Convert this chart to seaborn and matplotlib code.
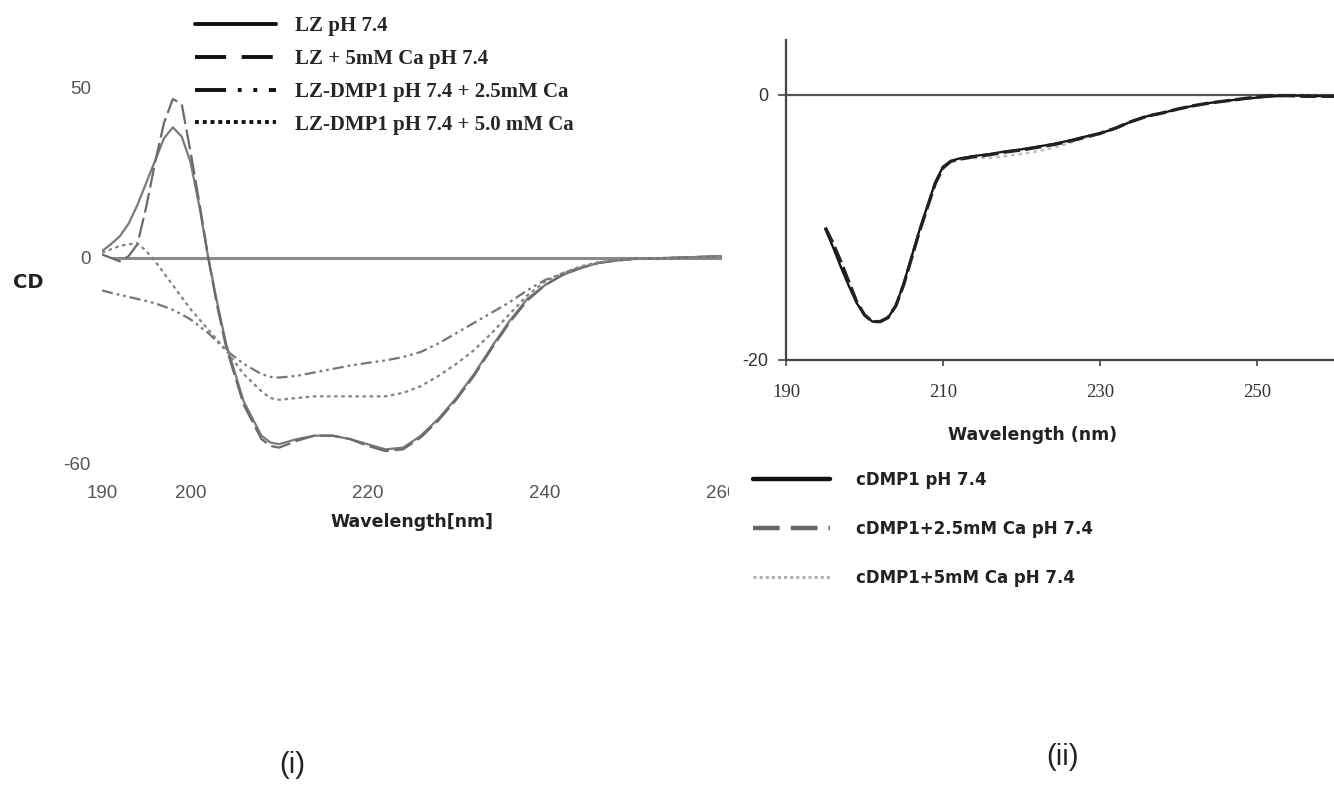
import matplotlib
matplotlib.use("Agg")
import matplotlib.pyplot as plt
import matplotlib.font_manager as fm
from matplotlib.font_manager import FontProperties
from matplotlib.transforms import Bbox
import seaborn as sns

# ---------------- Panel (i) data ----------------
wl_i = [190, 191, 192, 193, 194, 195, 196, 197, 198, 199, 200, 201, 202, 203, 204,
        206, 208, 209, 210, 212, 214, 216, 218, 220, 222, 224, 226, 228, 230, 232,
        234, 236, 238, 240, 242, 244, 246, 248, 250, 254, 260]
lz_ph74 = [2.0, 4.0, 6.3, 10.0, 15.5, 22.0, 28.5, 35.0, 38.2, 35.5, 28.0, 15.0, 0.0, -13.0, -25.0,
           -42.0, -52.0, -54.0, -54.5, -53.0, -52.0, -52.0, -53.0, -54.5, -56.0, -55.5, -52.0, -47.0, -41.0, -34.0,
           -26.0, -18.5, -12.0, -8.0, -5.0, -3.0, -1.5, -0.8, -0.3, 0.0, 0.5]
lz_ca5 = [1.0, 0.0, -1.0, 0.5, 4.0, 15.0, 28.0, 39.5, 46.5, 45.0, 31.0, 16.0, 0.0, -14.0, -26.0,
          -43.0, -53.0, -55.0, -55.5, -53.5, -52.0, -52.0, -53.0, -55.0, -56.5, -56.0, -52.5, -47.5, -41.5, -34.5,
          -26.5, -19.0, -12.5, -8.0, -5.0, -3.0, -1.5, -0.8, -0.3, 0.0, 0.5]
dmp1_ca25 = [-9.5, -10.2, -10.8, -11.4, -12.0, -12.6, -13.3, -14.2, -15.2, -16.5, -18.0, -20.0, -22.0, -24.5, -27.0,
             -31.0, -34.0, -34.8, -35.0, -34.5, -33.5, -32.5, -31.5, -30.7, -30.0, -29.0, -27.5, -25.0, -22.0, -19.0,
             -16.0, -13.0, -9.5, -6.5, -4.5, -2.8, -1.5, -0.7, -0.3, 0.0, 0.5]
dmp1_ca50 = [1.5, 2.5, 3.5, 4.0, 4.3, 2.0, -1.0, -4.5, -8.0, -11.5, -15.0, -18.0, -21.0, -24.0, -27.0,
             -34.0, -39.0, -41.0, -41.5, -41.0, -40.5, -40.5, -40.5, -40.5, -40.5, -39.5, -37.5, -34.5, -31.0, -27.0,
             -22.0, -16.5, -11.0, -7.0, -4.5, -2.5, -1.3, -0.6, -0.2, 0.0, 0.5]
labels_i = ["LZ pH 7.4", "LZ + 5mM Ca pH 7.4",
            "LZ-DMP1 pH 7.4 + 2.5mM Ca", "LZ-DMP1 pH 7.4 + 5.0 mM Ca"]
xticks_i = [190, 200, 220, 240, 260]
yticks_i = [-60, 0, 50]

# ---------------- Panel (ii) data ----------------
wl_ii = [195, 196, 197, 198, 199, 200, 201, 202, 203, 204, 205, 206, 207, 208, 209,
         210, 211, 212, 214, 216, 218, 220, 222, 224, 226, 228, 230, 232, 234, 236,
         238, 240, 242, 244, 246, 248, 250, 252, 254, 256, 258, 260]
cdmp1 = [-10.1, -11.5, -13.0, -14.4, -15.7, -16.6, -17.1, -17.1, -16.8, -15.9, -14.2, -12.2, -10.2, -8.4, -6.6,
         -5.4, -5.0, -4.8, -4.6, -4.45, -4.25, -4.1, -3.9, -3.7, -3.45, -3.15, -2.9, -2.5, -2.0, -1.6,
         -1.35, -1.05, -0.8, -0.6, -0.45, -0.3, -0.2, -0.1, -0.05, -0.05, -0.08, -0.1]
cdmp1_ca25 = [-10.0, -11.2, -12.6, -14.1, -15.6, -16.6, -17.1, -17.1, -16.8, -15.9, -14.3, -12.3, -10.3, -8.5, -6.7,
              -5.5, -5.0, -4.85, -4.65, -4.5, -4.3, -4.15, -3.95, -3.75, -3.5, -3.2, -2.9, -2.5, -2.0, -1.6,
              -1.35, -1.05, -0.8, -0.6, -0.45, -0.3, -0.15, -0.05, -0.05, -0.1, -0.1, -0.1]
cdmp1_ca5 = [-10.1, -11.5, -13.0, -14.4, -15.7, -16.6, -17.1, -17.1, -16.8, -15.9, -14.2, -12.2, -10.2, -8.4, -6.7,
             -5.5, -5.05, -4.85, -4.75, -4.75, -4.6, -4.45, -4.25, -4.0, -3.65, -3.25, -2.95, -2.5, -2.0, -1.6,
             -1.35, -1.05, -0.8, -0.6, -0.45, -0.3, -0.2, -0.1, -0.05, -0.05, -0.08, -0.1]
labels_ii = ["cDMP1 pH 7.4", "cDMP1+2.5mM Ca pH 7.4", "cDMP1+5mM Ca pH 7.4"]
xticks_ii = [190, 210, 230, 250]
yticks_ii = [-20, 0]

# ---------------- style / fonts ----------------
sns.set_style("white")
plt.rcParams["font.family"] = ["DejaVu Sans"]
avail = {f.name for f in fm.fontManager.ttflist}
NARROW = "Liberation Sans Narrow" if "Liberation Sans Narrow" in avail else "Liberation Sans"
SERIF = "Liberation Serif" if "Liberation Serif" in avail else "DejaVu Serif"
SANS = "Liberation Sans" if "Liberation Sans" in avail else "DejaVu Sans"

W, H = 1334, 787
fig = plt.figure(figsize=(W / 100, H / 100), dpi=100)
fig.patch.set_facecolor("white")

# ================= Panel (i) =================
ax1 = fig.add_axes([102 / W, 1 - 463 / H, 620 / W, 376 / H])
ax1.set_facecolor("none")
styles_i = [
    dict(color="#7a7a7a", linestyle="-", lw=1.6),
    dict(color="#6a6a6a", linestyle=(0, (9, 2.5)), lw=1.6),
    dict(color="#767676", linestyle=(0, (5, 1.8, 1.2, 1.8, 1.2, 1.8)), lw=1.6),
    dict(color="#858585", linestyle=(0, (1.6, 1.6)), lw=1.6),
]
lines_i = []
for yv, st in zip([lz_ph74, lz_ca5, dmp1_ca25, dmp1_ca50], styles_i):
    sns.lineplot(x=wl_i, y=yv, ax=ax1, **st)
    lines_i.append(ax1.lines[-1])
ax1.axhline(0, xmin=(191.2 - 190) / 70, xmax=1, color="#8a8a8a", lw=2.2, zorder=0)
ax1.set_xlim(190, 260)
ax1.set_ylim(-60, 50)
for s in ax1.spines.values():
    s.set_visible(False)
ax1.set_xticks(xticks_i, labels=[str(v) for v in xticks_i])
ax1.set_yticks(yticks_i, labels=[str(v) for v in yticks_i])
ax1.tick_params(axis="both", length=0, colors="#555555")
ax1.tick_params(axis="x", pad=16)
ax1.tick_params(axis="y", pad=8)
for t in ax1.get_xticklabels() + ax1.get_yticklabels():
    t.set_fontfamily(NARROW)
    t.set_fontsize(13.5)
ax1.set_xlabel("Wavelength[nm]", fontsize=12.5, fontweight="bold", color="#222222")
ax1.xaxis.label.set_va("center")
ax1.xaxis.set_label_coords(0.5, (463 - 522) / 376)
ax1.set_ylabel("CD", rotation=0, fontsize=14, fontweight="bold", color="#222222")
ax1.yaxis.label.set_va("center")
ax1.yaxis.label.set_ha("center")
ax1.yaxis.set_label_coords((28 - 102) / 620, (463 - 283) / 376)

leg1 = fig.legend(handles=lines_i, labels=labels_i, loc="upper left",
                  bbox_to_anchor=(195 / W, 1 - 16 / H), frameon=False,
                  prop=FontProperties(family=SERIF, weight="bold", size=15),
                  handlelength=3.9, handletextpad=0.9, labelspacing=0.62,
                  borderpad=0, borderaxespad=0)
leg_styles_i = ["-", (0, (8, 4, 8, 4, 2, 4)), (0, (8, 3, 1, 3, 1, 3)), (0, (1, 1))]
for h, ls in zip(leg1.legend_handles, leg_styles_i):
    h.set_color("#111111")
    h.set_linewidth(2.8)
    h.set_linestyle(ls)

# ================= Panel (ii) =================
x_right = 190 + (W - 786) / 7.85
ax2 = fig.add_axes([786 / W, 1 - 360 / H, (W - 786) / W, 320 / H])
ax2.set_facecolor("none")
styles_ii = [
    dict(color="#111111", linestyle="-", lw=1.6, zorder=3),
    dict(color="#222222", linestyle=(0, (5, 1.5)), lw=2.4, zorder=4),
    dict(color="#c0c0c0", linestyle=(0, (1.5, 1.5)), lw=1.8, zorder=2),
]
lines_ii = []
for yv, st in zip([cdmp1, cdmp1_ca25, cdmp1_ca5], styles_ii):
    sns.lineplot(x=wl_ii, y=yv, ax=ax2, **st)
    lines_ii.append(ax2.lines[-1])
ax2.axhline(0, color="#555555", lw=1.6, zorder=1)
ax2.set_xlim(190, x_right)
ax2.set_ylim(-20, 4.15)
for k in ["top", "right"]:
    ax2.spines[k].set_visible(False)
for k in ["left", "bottom"]:
    ax2.spines[k].set_color("#444444")
    ax2.spines[k].set_linewidth(1.6)
ax2.set_xticks(xticks_ii, labels=[str(v) for v in xticks_ii])
ax2.set_yticks(yticks_ii, labels=[str(v) for v in yticks_ii])
ax2.tick_params(axis="x", direction="out", length=4, width=1.2, colors="#444444",
                labelcolor="#333333", pad=13, bottom=True)
ax2.tick_params(axis="y", direction="out", length=6, width=1.2, colors="#444444",
                labelcolor="#333333", pad=7, left=True)
for t in ax2.get_xticklabels():
    t.set_fontfamily(SERIF)
    t.set_fontsize(13.5)
for t in ax2.get_yticklabels():
    t.set_fontfamily(SANS)
    t.set_fontsize(13)
ax2.set_xlabel("Wavelength (nm)", fontsize=12.5, fontweight="bold", color="#222222")
ax2.xaxis.label.set_va("center")
ax2.xaxis.set_label_coords((1033 - 786) / (W - 786), (360 - 435) / 320)

leg2 = fig.legend(handles=lines_ii, labels=labels_ii, loc="upper left",
                  bbox_to_anchor=(753 / W, 1 - 471 / H), frameon=False,
                  prop=FontProperties(family="DejaVu Sans", weight="bold", size=12),
                  handlelength=4.6, handletextpad=1.6, labelspacing=1.85,
                  borderpad=0, borderaxespad=0)
leg_styles_ii = [("#111111", "-", 3.2), ("#666666", (0, (6, 2.5)), 3.2), ("#b0b0b0", (0, (1, 1)), 2.2)]
for h, (c, ls, lw) in zip(leg2.legend_handles, leg_styles_ii):
    h.set_color(c)
    h.set_linestyle(ls)
    h.set_linewidth(lw)
for t in leg2.get_texts():
    t.set_color("#222222")

# panel tags
fig.text(292 / W, 1 - 765 / H, "(i)", ha="center", va="center", fontsize=21,
         family=SANS, color="#222222")
fig.text(1062 / W, 1 - 757 / H, "(ii)", ha="center", va="center", fontsize=21,
         family=SANS, color="#222222")

# clip the last tick label of panel (i) where panel (ii) begins
fig.canvas.draw()
for t in ax1.get_xticklabels():
    if t.get_text() == "260":
        t.set_clip_box(Bbox.from_extents(0, 0, 729, H))
        t.set_clip_on(True)

fig.savefig("out.png", dpi=100, facecolor="white")
